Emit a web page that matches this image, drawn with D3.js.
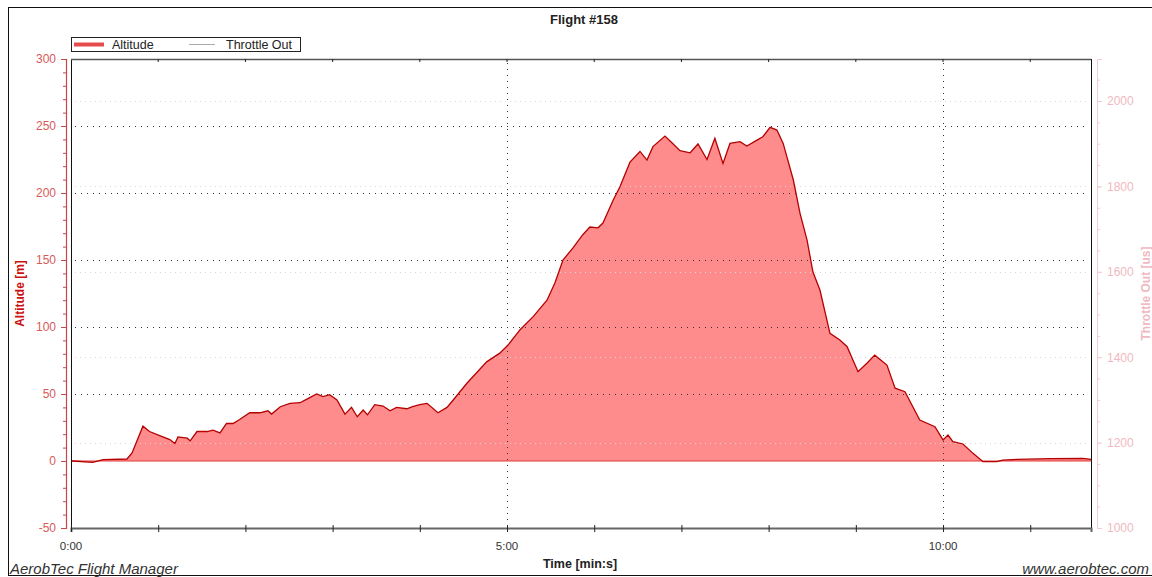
<!DOCTYPE html>
<html>
<head>
<meta charset="utf-8">
<script src="https://d3js.org/d3.v7.min.js"></script>
<style>
  body { margin: 0; background: #fff; overflow: hidden; }
  text { font-family: "Liberation Sans", Arial, sans-serif; }
</style>
</head>
<body>
<div id="chart"></div>

<script>
// flight log (time in seconds, altitude in metres)
var timeSec = [0, 1.4, 15, 22, 38.5, 42, 49.5, 54, 61, 68, 71.5, 73.6, 80, 82, 86.7, 93.6, 97.7, 102.5,
  107, 111.5, 116, 123, 130, 135.5, 138, 144, 150.7, 157.6, 162, 169, 173.4, 178, 183, 188.5, 193, 197,
  201, 204, 209, 214.7, 219.5, 224, 231, 235, 240, 245, 252.5, 258.7, 263, 272.4, 286, 295, 300.7, 309,
  318, 327.5, 333, 338.5, 345.4, 352, 357, 362.6, 366, 373, 377.7, 384.6, 391.5, 396.3, 400.4, 408.7,
  414, 419, 426, 431.4, 437.6, 443, 448.6, 453.4, 460.3, 465, 472, 476, 481, 485.7, 490, 497, 501.6,
  506.4, 510.5, 515.3, 522.2, 529, 534, 541.5, 547.6, 553, 561.4, 567, 573.8, 584, 594.4, 600, 603.4,
  606.8, 613.7, 620.6, 627.5, 637, 641, 651, 673.6, 696.3, 701.8];
var altitude = [0, 0, -1, 1, 1.5, 6, 26, 22, 19, 16, 13, 18, 17, 15, 22, 22, 23, 21,
  28, 28, 31, 36, 36, 37.5, 35, 40.5, 43, 43.5, 46, 50, 48, 49.5, 45.5, 35, 40, 33,
  38, 34.5, 42, 41, 37.5, 40, 39, 40.5, 42, 43, 36, 40, 45.5, 58, 74, 80.5, 86.5, 98,
  107.7, 120, 133, 150, 159, 168.7, 174.6, 174, 177.6, 194.6, 204.7, 223, 231, 224.6, 234.6, 242.5,
  237, 231.6, 230, 236.6, 225, 240.8, 222, 237, 238.3, 235, 239.5, 242, 249, 247, 237, 209.7, 184.8,
  165, 141, 127.6, 95.3, 90.3, 85.3, 66.6, 72.9, 79, 71.6, 54.3, 51.7, 30.6, 25.6, 15.7, 19.4,
  14.4, 12.7, 5.7, -0.5, -0.5, 0.7, 1.2, 1.7, 2, 1.2];

var altTicks = [-50, 0, 50, 100, 150, 200, 250, 300];
var throttleTicks = [1000, 1200, 1400, 1600, 1800, 2000];
var timeTicks = [0, 300, 600];

var W = 1152, H = 577;
var L = 71, R = 1091, T = 59, B = 528;

var svg = d3.select("#chart").append("svg")
    .attr("width", W)
    .attr("height", H);

// outer frame (runs off the right edge like the screenshot)
svg.append("rect")
    .attr("x", 8.5).attr("y", 7.5)
    .attr("width", 1160).attr("height", 568)
    .attr("fill", "#fff").attr("stroke", "#111");

var x = d3.scaleLinear().domain([0, 701.8]).range([L, R]);
var y = d3.scaleLinear().domain([-50, 300]).range([B, T]);
var y2 = d3.scaleLinear().domain([1000, 2098.4]).range([B, T]);

var data = timeSec.map(function (t, i) { return { t: t, a: altitude[i] }; });

// filled altitude
var area = d3.area()
    .x(function (d) { return x(d.t); })
    .y0(y(0))
    .y1(function (d) { return y(d.a); });

svg.append("path")
    .datum(data)
    .attr("d", area)
    .attr("fill", "#ff8c8c");

// light grid from throttle axis
svg.append("g").selectAll("line")
    .data(throttleTicks.filter(function (v) { return v > 1000; }))
    .join("line")
    .attr("x1", L + 4).attr("x2", R - 4)
    .attr("y1", function (d) { return Math.round(y2(d)) + 0.5; })
    .attr("y2", function (d) { return Math.round(y2(d)) + 0.5; })
    .attr("stroke", "#d8d8d8")
    .attr("stroke-dasharray", "1,4");

// main grid
svg.append("g").selectAll("line")
    .data(altTicks.filter(function (v) { return v > 0 && v < 300; }))
    .join("line")
    .attr("x1", L + 4).attr("x2", R - 4)
    .attr("y1", function (d) { return Math.round(y(d)) + 0.5; })
    .attr("y2", function (d) { return Math.round(y(d)) + 0.5; })
    .attr("stroke", "#333")
    .attr("stroke-dasharray", "1,5");

svg.append("g").selectAll("line")
    .data(timeTicks.filter(function (v) { return v > 0; }))
    .join("line")
    .attr("x1", function (d) { return Math.round(x(d)) + 0.5; })
    .attr("x2", function (d) { return Math.round(x(d)) + 0.5; })
    .attr("y1", T + 4).attr("y2", B - 4)
    .attr("stroke", "#333")
    .attr("stroke-dasharray", "1,5");

// zero line and altitude outline
svg.append("line")
    .attr("x1", L).attr("x2", R)
    .attr("y1", y(0)).attr("y2", y(0))
    .attr("stroke", "#e03a3a").attr("stroke-width", 1.2);

var line = d3.line()
    .x(function (d) { return x(d.t); })
    .y(function (d) { return y(d.a); });

svg.append("path")
    .datum(data)
    .attr("d", line)
    .attr("fill", "none")
    .attr("stroke", "#b40000")
    .attr("stroke-width", 1.3);

// plot frame
svg.append("line").attr("x1", L + 0.5).attr("x2", L + 0.5).attr("y1", T).attr("y2", B).attr("stroke", "#111");
svg.append("line").attr("x1", R + 0.5).attr("x2", R + 0.5).attr("y1", T).attr("y2", B).attr("stroke", "#111");
svg.append("line").attr("x1", L).attr("x2", R).attr("y1", T + 0.5).attr("y2", T + 0.5).attr("stroke", "#555").attr("stroke-width", 1.5);

// bottom time axis
var minuteTicks = d3.range(0, 702, 60);
var xAxis = d3.axisBottom(x)
    .tickValues(minuteTicks)
    .tickSize(4)
    .tickFormat("");
var gx = svg.append("g").attr("transform", "translate(0," + B + ")").call(xAxis);
gx.select(".domain").attr("stroke", "#666").attr("stroke-width", 2);
gx.selectAll(".tick line").attr("stroke", "#222").attr("y1", -3);

svg.append("g").selectAll("text")
    .data(timeTicks)
    .join("text")
    .attr("x", function (d) { return x(d); })
    .attr("y", 550)
    .attr("text-anchor", "middle")
    .attr("font-size", 11.5)
    .attr("fill", "#333")
    .text(function (d) { return Math.floor(d / 60) + ":" + d3.format("02")(d % 60); });

// top ticks
svg.append("g").selectAll("line")
    .data(minuteTicks.filter(function (v) { return v > 0; }))
    .join("line")
    .attr("x1", function (d) { return x(d); })
    .attr("x2", function (d) { return x(d); })
    .attr("y1", T).attr("y2", T + 3)
    .attr("stroke", "#222");

// left altitude axis
var gy = svg.append("g").attr("transform", "translate(66,0)")
    .call(d3.axisLeft(y).tickValues(altTicks).tickSize(5).tickPadding(5)
        .tickFormat(function (d) { return String(d); }));
gy.select(".domain").attr("stroke", "#c84848").attr("stroke-width", 1.2);
gy.selectAll(".tick line").attr("stroke", "#c84848");
gy.selectAll(".tick text").attr("fill", "#d85a5a").attr("font-size", 12)
    .attr("font-family", "Liberation Sans, Arial, sans-serif");

var gyMinor = svg.append("g").attr("transform", "translate(66,0)")
    .call(d3.axisLeft(y).tickValues(d3.range(-50, 301, 10)).tickSize(3).tickFormat(""));
gyMinor.select(".domain").remove();
gyMinor.selectAll(".tick line").attr("stroke", "#c84848");

svg.append("text")
    .attr("transform", "translate(24," + ((T + B) / 2) + ") rotate(-90)")
    .attr("text-anchor", "middle")
    .attr("font-size", 12)
    .attr("font-weight", "bold")
    .attr("fill", "#cc1010")
    .text("Altitude [m]");

// right throttle axis
var gy2 = svg.append("g").attr("transform", "translate(1097,0)")
    .call(d3.axisRight(y2).tickValues(throttleTicks).tickSize(5).tickPadding(5)
        .tickFormat(function (d) { return String(d); }));
gy2.select(".domain").attr("stroke", "#f4c9cf");
gy2.selectAll(".tick line").attr("stroke", "#f4c9cf");
gy2.selectAll(".tick text").attr("fill", "#f0b9c1").attr("font-size", 12)
    .attr("font-family", "Liberation Sans, Arial, sans-serif");

var gy2Minor = svg.append("g").attr("transform", "translate(1097,0)")
    .call(d3.axisRight(y2).tickValues(d3.range(1000, 2099, 50)).tickSize(3).tickFormat(""));
gy2Minor.select(".domain").remove();
gy2Minor.selectAll(".tick line").attr("stroke", "#f4c9cf");

svg.append("text")
    .attr("transform", "translate(1150," + ((T + B) / 2) + ") rotate(-90)")
    .attr("text-anchor", "middle")
    .attr("font-size", 12)
    .attr("font-weight", "bold")
    .attr("fill", "#f0b9c1")
    .text("Throttle Out  [us]");

// title + captions
svg.append("text")
    .attr("x", 584).attr("y", 24)
    .attr("text-anchor", "middle")
    .attr("font-size", 13).attr("font-weight", "bold")
    .attr("fill", "#222")
    .text("Flight #158");

svg.append("text")
    .attr("x", 580).attr("y", 568)
    .attr("text-anchor", "middle")
    .attr("font-size", 12.5).attr("font-weight", "bold")
    .attr("fill", "#222")
    .text("Time [min:s]");

svg.append("text")
    .attr("x", 10).attr("y", 574)
    .attr("font-size", 15).attr("font-style", "italic")
    .attr("fill", "#333")
    .text("AerobTec Flight Manager");

svg.append("text")
    .attr("x", 1149).attr("y", 574)
    .attr("text-anchor", "end")
    .attr("font-size", 15).attr("font-style", "italic")
    .attr("fill", "#333")
    .text("www.aerobtec.com");

// legend
var lg = svg.append("g");
lg.append("rect")
    .attr("x", 71.5).attr("y", 37.5).attr("width", 229).attr("height", 14)
    .attr("fill", "#fff").attr("stroke", "#222");
lg.append("line")
    .attr("x1", 74).attr("x2", 104).attr("y1", 44.5).attr("y2", 44.5)
    .attr("stroke", "#e64b4b").attr("stroke-width", 4);
lg.append("text")
    .attr("x", 112).attr("y", 49)
    .attr("font-size", 12.5).attr("fill", "#222")
    .text("Altitude");
lg.append("line")
    .attr("x1", 189).attr("x2", 215).attr("y1", 44.5).attr("y2", 44.5)
    .attr("stroke", "#aaa").attr("stroke-width", 1);
lg.append("text")
    .attr("x", 226).attr("y", 49)
    .attr("font-size", 12.5).attr("fill", "#222")
    .text("Throttle Out");
</script>
</body>
</html>
